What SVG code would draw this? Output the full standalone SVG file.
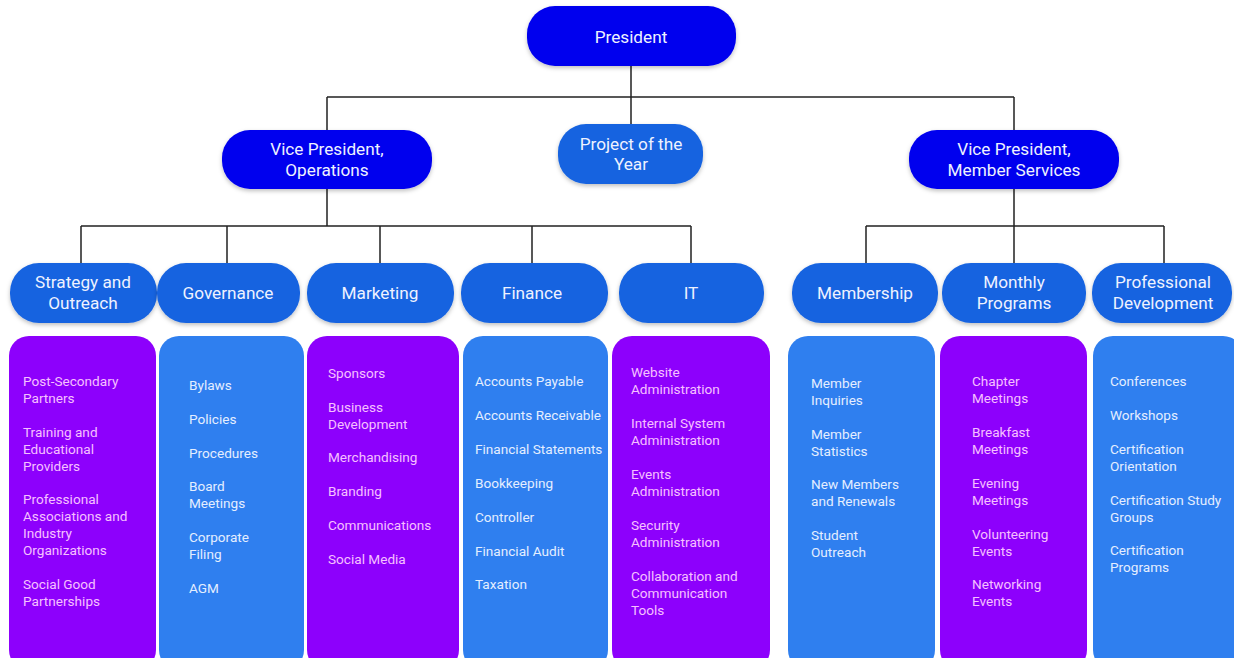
<svg xmlns="http://www.w3.org/2000/svg" width="1234" height="658" viewBox="0 0 1234 658">
<style>
.top{fill:#0505ee}
.dept{fill:#1764e0}
.pur{fill:#8d00fc}
.blu{fill:#2f7fef}
.pt{font-family:Roboto,"Liberation Sans",sans-serif;font-size:17.2px;fill:#eef2ff;text-anchor:middle}
.lp{font-family:Roboto,"Liberation Sans",sans-serif;font-size:13.6px;fill:#f6c0ff}
.lb{font-family:Roboto,"Liberation Sans",sans-serif;font-size:13.6px;fill:#e4eeff}
.ln{stroke:#222;stroke-width:1.5;fill:none}
</style>
<defs>
<filter id="sh" x="-10%" y="-10%" width="120%" height="130%">
<feDropShadow dx="0" dy="2" stdDeviation="2" flood-color="#000" flood-opacity="0.25"/>
</filter>
</defs>
<rect width="1234" height="658" fill="#fff"/>
<g id="connectors">
<path class="ln" d="M631 66V124M327 97H1014M327 97V130M1014 97V130"/>
<path class="ln" d="M327 189V226M81 226H691M81 226V263M227 226V263M380 226V263M532 226V263M691 226V263"/>
<path class="ln" d="M1014 189V263M866 226H1164M866 226V263M1164 226V263"/>
</g>
<g id="president"><rect class="top" x="527" y="6" width="209" height="60" rx="28" filter="url(#sh)"/><text class="pt" x="631" y="43">President</text></g>
<g id="vp-operations"><rect class="top" x="222" y="130" width="210" height="59" rx="28" filter="url(#sh)"/><text class="pt" x="327" y="155">Vice President,</text><text class="pt" x="327" y="176">Operations</text></g>
<g id="project-of-the-year"><rect class="dept" x="558" y="124" width="145" height="60" rx="28" filter="url(#sh)"/><text class="pt" x="631" y="150">Project of the</text><text class="pt" x="631" y="170">Year</text></g>
<g id="vp-member-services"><rect class="top" x="909" y="130" width="210" height="59" rx="28" filter="url(#sh)"/><text class="pt" x="1014" y="155">Vice President,</text><text class="pt" x="1014" y="176">Member Services</text></g>

<g id="strategy"><rect class="dept" x="10" y="263" width="147" height="60" rx="29" filter="url(#sh)"/><text class="pt" x="83" y="288">Strategy and</text><text class="pt" x="83" y="309">Outreach</text></g>
<g id="governance"><rect class="dept" x="157" y="263" width="143" height="60" rx="29" filter="url(#sh)"/><text class="pt" x="228" y="299">Governance</text></g>
<g id="marketing"><rect class="dept" x="307" y="263" width="147" height="60" rx="29" filter="url(#sh)"/><text class="pt" x="380" y="299">Marketing</text></g>
<g id="finance"><rect class="dept" x="461" y="263" width="147" height="60" rx="29" filter="url(#sh)"/><text class="pt" x="532" y="299">Finance</text></g>
<g id="it"><rect class="dept" x="619" y="263" width="145" height="60" rx="29" filter="url(#sh)"/><text class="pt" x="691" y="299">IT</text></g>
<g id="membership"><rect class="dept" x="792" y="263" width="146" height="60" rx="29" filter="url(#sh)"/><text class="pt" x="865" y="299">Membership</text></g>
<g id="monthly-programs"><rect class="dept" x="942" y="263" width="144" height="60" rx="29" filter="url(#sh)"/><text class="pt" x="1014" y="288">Monthly</text><text class="pt" x="1014" y="309">Programs</text></g>
<g id="professional-development"><rect class="dept" x="1092" y="263" width="140" height="60" rx="29" filter="url(#sh)"/><text class="pt" x="1163" y="288">Professional</text><text class="pt" x="1163" y="309">Development</text></g>

<g id="strategy-list"><rect class="pur" x="9" y="336" width="147" height="334" rx="20"/>
<text class="lp" x="23"><tspan x="23" y="385.5">Post-Secondary</tspan><tspan x="23" y="402.5">Partners</tspan><tspan x="23" y="436.5">Training and</tspan><tspan x="23" y="453.5">Educational</tspan><tspan x="23" y="470.5">Providers</tspan><tspan x="23" y="503.5">Professional</tspan><tspan x="23" y="520.5">Associations and</tspan><tspan x="23" y="537.5">Industry</tspan><tspan x="23" y="554.5">Organizations</tspan><tspan x="23" y="588.5">Social Good</tspan><tspan x="23" y="605.5">Partnerships</tspan></text></g>
<g id="governance-list"><rect class="blu" x="159" y="336" width="145" height="334" rx="20"/>
<text class="lb"><tspan x="189" y="389.5">Bylaws</tspan><tspan x="189" y="423.5">Policies</tspan><tspan x="189" y="457.5">Procedures</tspan><tspan x="189" y="490.5">Board</tspan><tspan x="189" y="507.5">Meetings</tspan><tspan x="189" y="541.5">Corporate</tspan><tspan x="189" y="558.5">Filing</tspan><tspan x="189" y="592.5">AGM</tspan></text></g>
<g id="marketing-list"><rect class="pur" x="307" y="336" width="152" height="334" rx="20"/>
<text class="lp"><tspan x="328" y="377.5">Sponsors</tspan><tspan x="328" y="411.5">Business</tspan><tspan x="328" y="428.5">Development</tspan><tspan x="328" y="461.5">Merchandising</tspan><tspan x="328" y="495.5">Branding</tspan><tspan x="328" y="529.5">Communications</tspan><tspan x="328" y="563.5">Social Media</tspan></text></g>
<g id="finance-list"><rect class="blu" x="463" y="336" width="145" height="334" rx="20"/>
<text class="lb"><tspan x="475" y="385.5">Accounts Payable</tspan><tspan x="475" y="419.5">Accounts Receivable</tspan><tspan x="475" y="453.5">Financial Statements</tspan><tspan x="475" y="487.5">Bookkeeping</tspan><tspan x="475" y="521.5">Controller</tspan><tspan x="475" y="555.5">Financial Audit</tspan><tspan x="475" y="588.5">Taxation</tspan></text></g>
<g id="it-list"><rect class="pur" x="612" y="336" width="158" height="334" rx="20"/>
<text class="lp"><tspan x="631" y="376.5">Website</tspan><tspan x="631" y="393.5">Administration</tspan><tspan x="631" y="427.5">Internal System</tspan><tspan x="631" y="444.5">Administration</tspan><tspan x="631" y="478.5">Events</tspan><tspan x="631" y="495.5">Administration</tspan><tspan x="631" y="529.5">Security</tspan><tspan x="631" y="546.5">Administration</tspan><tspan x="631" y="580.5">Collaboration and</tspan><tspan x="631" y="597.5">Communication</tspan><tspan x="631" y="614.5">Tools</tspan></text></g>
<g id="membership-list"><rect class="blu" x="788" y="336" width="147" height="334" rx="20"/>
<text class="lb"><tspan x="811" y="387.5">Member</tspan><tspan x="811" y="404.5">Inquiries</tspan><tspan x="811" y="438.5">Member</tspan><tspan x="811" y="455.5">Statistics</tspan><tspan x="811" y="488.5">New Members</tspan><tspan x="811" y="505.5">and Renewals</tspan><tspan x="811" y="539.5">Student</tspan><tspan x="811" y="556.5">Outreach</tspan></text></g>
<g id="monthly-list"><rect class="pur" x="940" y="336" width="147" height="334" rx="20"/>
<text class="lp"><tspan x="972" y="385.5">Chapter</tspan><tspan x="972" y="402.5">Meetings</tspan><tspan x="972" y="436.5">Breakfast</tspan><tspan x="972" y="453.5">Meetings</tspan><tspan x="972" y="487.5">Evening</tspan><tspan x="972" y="504.5">Meetings</tspan><tspan x="972" y="538.5">Volunteering</tspan><tspan x="972" y="555.5">Events</tspan><tspan x="972" y="588.5">Networking</tspan><tspan x="972" y="605.5">Events</tspan></text></g>
<g id="profdev-list"><rect class="blu" x="1093" y="336" width="150" height="334" rx="20"/>
<text class="lb"><tspan x="1110" y="385.5">Conferences</tspan><tspan x="1110" y="419.5">Workshops</tspan><tspan x="1110" y="453.5">Certification</tspan><tspan x="1110" y="470.5">Orientation</tspan><tspan x="1110" y="504.5">Certification Study</tspan><tspan x="1110" y="521.5">Groups</tspan><tspan x="1110" y="554.5">Certification</tspan><tspan x="1110" y="571.5">Programs</tspan></text></g>
</svg>
